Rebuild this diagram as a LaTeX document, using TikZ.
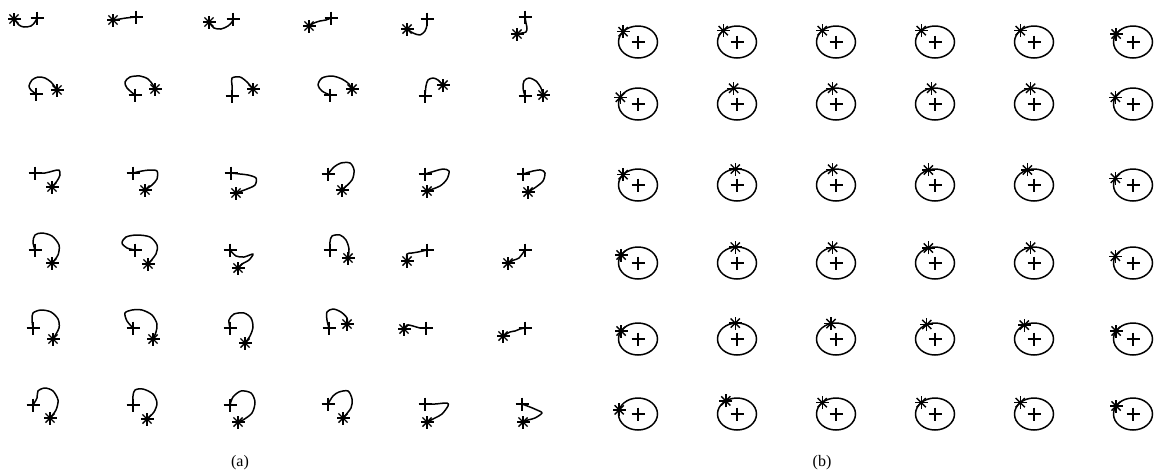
\documentclass[tikz,border=0pt]{standalone}
\usepackage{fontspec}
\setmainfont{Liberation Serif}
\begin{document}
\begin{tikzpicture}[x=1pt,y=-1pt,line width=1.5pt,
  traj/.style={line width=1.5pt,line join=round},
  mystar/.pic={\foreach \a in {0,45,90,135}{\draw[line width=1.4pt] (\a:6.5) -- (\a+180:6.5);}},
  myplus/.pic={\draw[line width=1.2pt] (-6.5,0) -- (6.5,0) (0,-6.5) -- (0,6.5);},
  lab/.style={font=\fontsize{16}{18}\selectfont,inner sep=0pt}]
\useasboundingbox (0,0) rectangle (1154,475);
% ---------- panel (a) ----------
\def\tr#1#2#3{\draw[traj] plot[smooth,tension=0.5] coordinates {#1}; \pic at #2 {mystar}; \pic at #3 {myplus};}
% row 1
\tr{(15,20) (19,25) (24,27) (31,26) (35,22) (37,18)}{(14,19)}{(37,18)}
\tr{(113,20) (120,19) (126,18) (136,17)}{(113,20)}{(136,17)}
\tr{(209,22) (214,28) (221,29) (228,26) (232,22) (233,19)}{(209,22)}{(233,19)}
\tr{(309,26) (314,23) (320,21) (326,20) (331,18)}{(309,26)}{(331,18)}
\tr{(407,29) (413,33) (420,35) (425,31) (427,25) (427,19)}{(407,29)}{(427,19)}
\tr{(525,17) (526,23) (527,28) (526,32) (522,33) (517,34)}{(517,34)}{(525,17)}
% row 2
\tr{(36,94) (31,90) (29,86) (32,80) (38,77) (45,78) (51,82) (55,87) (57,90)}{(57,90)}{(36,94)}
\tr{(135,95) (127,88) (125,82) (130,77) (140,76) (148,79) (153,85) (155,89)}{(155,89)}{(135,95)}
\tr{(232,96) (232,85) (232,78) (240,77) (247,82) (253,89)}{(253,89)}{(232,96)}
\tr{(330,95) (322,91) (318,85) (322,78) (332,76) (342,79) (349,84) (352,89)}{(352,89)}{(330,95)}
\tr{(425,96) (426,86) (428,80) (433,78) (438,80) (443,85)}{(443,85)}{(425,96)}
\tr{(525,96) (523,88) (524,81) (529,78) (536,81) (541,88) (543,95)}{(543,95)}{(525,96)}
% row 3
\tr{(35,173) (45,173) (53,171) (59,170) (60,175) (57,181) (52,187)}{(52,187)}{(35,173)}
\tr{(133,173) (142,171) (150,170) (157,171) (157,179) (152,185) (145,190)}{(145,190)}{(133,173)}
\tr{(231,173) (240,174) (248,175) (256,178) (255,185) (247,189) (236,193)}{(236,193)}{(231,173)}
\tr{(328,174) (334,167) (341,163) (350,163) (354,170) (352,180) (342,190)}{(342,190)}{(328,174)}
\tr{(425,174) (435,171) (443,169) (449,171) (447,179) (440,186) (427,191)}{(427,191)}{(425,174)}
\tr{(523,174) (533,171) (541,170) (545,173) (543,181) (536,187) (528,192)}{(528,192)}{(523,174)}
% row 4
\tr{(35,250) (33,242) (35,235) (42,233) (52,236) (59,245) (58,255) (52,263)}{(52,263)}{(35,250)}
\tr{(135,250) (127,248) (122,243) (126,237) (137,235) (150,237) (157,245) (156,254) (148,264)}{(148,264)}{(135,250)}
\tr{(230,250) (236,256) (244,257) (253,254) (249,260) (242,264) (238,268)}{(238,268)}{(230,250)}
\tr{(330,250) (330,242) (332,236) (340,235) (346,240) (349,249) (348,258)}{(348,258)}{(330,250)}
\tr{(407,261) (407,254) (412,253) (418,252) (427,250)}{(407,261)}{(427,250)}
\tr{(508,263) (514,260) (519,258) (525,250)}{(508,263)}{(525,250)}
% row 5
\tr{(33,328) (32,320) (33,313) (41,310) (51,312) (58,319) (59,328) (53,339)}{(53,339)}{(33,328)}
\tr{(133,328) (127,321) (125,313) (132,310) (142,310) (152,315) (157,324) (156,332) (153,339)}{(153,339)}{(133,328)}
\tr{(230,328) (229,320) (234,314) (244,313) (251,318) (253,327) (250,336) (245,343)}{(245,343)}{(230,328)}
\tr{(329,328) (327,320) (327,312) (333,309) (341,312) (347,318) (347,324)}{(347,324)}{(329,328)}
\tr{(404,329) (407,325) (413,326) (420,328) (426,328)}{(404,329)}{(426,328)}
\tr{(503,336) (510,332) (515,331) (520,329) (525,328)}{(503,336)}{(525,328)}
% row 6
\tr{(33,405) (37,398) (38,391) (45,388) (53,391) (58,400) (56,410) (50,418)}{(50,418)}{(33,405)}
\tr{(133,405) (133,396) (135,390) (143,389) (153,394) (157,403) (154,412) (147,419)}{(147,419)}{(133,405)}
\tr{(230,405) (233,397) (241,391) (251,393) (255,402) (252,413) (243,420) (238,422)}{(238,422)}{(230,405)}
\tr{(328,404) (333,396) (339,392) (348,391) (352,399) (351,408) (343,418)}{(343,418)}{(328,404)}
\tr{(425,404) (435,404) (447,403) (448,406) (442,414) (435,418) (427,422)}{(427,422)}{(425,404)}
\tr{(522,404) (530,407) (537,410) (542,413) (535,418) (528,420) (523,422)}{(523,422)}{(522,404)}
\node[lab] (la) at (240,463) {(a)};
% ---------- panel (b) ----------
\def\colx{{638,737,836,935,1034,1133}}
\def\rowy{{42,104,185,263,339,414}}
\def\angs{{140,135,135,135,135,150,155,100,100,100,100,155,140,95,100,110,110,155,150,95,100,110,100,155,150,95,105,115,120,150,165,125,135,135,135,150}}
\foreach \r in {0,...,5}{
  \foreach \c in {0,...,5}{
    \pgfmathsetmacro{\cx}{\colx[\c]}
    \pgfmathsetmacro{\cy}{\rowy[\r]}
    \pgfmathsetmacro{\th}{\angs[6*\r+\c]}
    \draw[line width=1.5pt] (\cx,\cy) ellipse [x radius=19.5, y radius=16];
    \pic at (\cx,\cy) {myplus};
    \pic at ({\cx+19.5*cos(\th)},{\cy-16*sin(\th)}) {mystar};
  }
}
\node[lab] (lb) at (822,463) {(b)};
\end{tikzpicture}
\end{document}
